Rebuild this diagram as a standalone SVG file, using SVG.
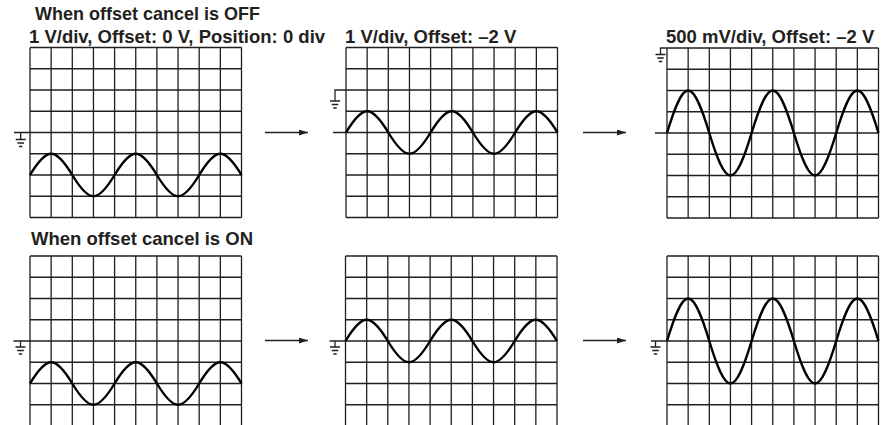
<svg xmlns="http://www.w3.org/2000/svg" xmlns:xlink="http://www.w3.org/1999/xlink" width="885" height="425" viewBox="0 0 885 425">
<style>
.t{font-family:"Liberation Sans",Arial,sans-serif;font-weight:bold;font-size:18.5px;fill:#231f20}
.g{fill:none;stroke:#231f20;stroke-width:1.3}
.w{fill:none;stroke:#000;stroke-width:2.4;stroke-linejoin:round}
.gnd{fill:none;stroke:#231f20;stroke-width:1.3}
.arr{fill:none;stroke:#231f20;stroke-width:1.6}
</style>
<defs>
<path id="grid" class="g" d="M0 0V170M21.15 0V170M42.3 0V170M63.45 0V170M84.6 0V170M105.75 0V170M126.9 0V170M148.05 0V170M169.2 0V170M190.35 0V170M211.5 0V170M0 0H211.5M0 21.25H211.5M0 42.5H211.5M0 63.75H211.5M0 85H211.5M0 106.25H211.5M0 127.5H211.5M0 148.75H211.5M0 170H211.5"/>
<path id="bars" class="gnd" d="M-5 0H5M-3.3 3.5H3.3M-1.7 7H1.7"/>
<path id="w1" d="m0,0 c7.05,-11.69 14.1,-21.25 21.15,-21.25 c7.05,0 14.1,9.56 21.15,21.25 c7.05,11.69 14.1,21.25 21.15,21.25 c7.05,0 14.1,-9.56 21.15,-21.25 c7.05,-11.69 14.1,-21.25 21.15,-21.25 c7.05,0 14.1,9.56 21.15,21.25 c7.05,11.69 14.1,21.25 21.15,21.25 c7.05,0 14.1,-9.56 21.15,-21.25 c7.05,-11.69 14.1,-21.25 21.15,-21.25 c7.05,0 14.1,9.56 21.15,21.25" class="w"/>
<path id="w2" d="m0,0 c7.05,-23.38 14.1,-42.5 21.15,-42.5 c7.05,0 14.1,19.13 21.15,42.5 c7.05,23.38 14.1,42.5 21.15,42.5 c7.05,0 14.1,-19.13 21.15,-42.5 c7.05,-23.38 14.1,-42.5 21.15,-42.5 c7.05,0 14.1,19.13 21.15,42.5 c7.05,23.38 14.1,42.5 21.15,42.5 c7.05,0 14.1,-19.13 21.15,-42.5 c7.05,-23.38 14.1,-42.5 21.15,-42.5 c7.05,0 14.1,19.13 21.15,42.5" class="w"/>
<marker id="ah" markerUnits="userSpaceOnUse" markerWidth="10" markerHeight="8" refX="9" refY="3" orient="auto">
<path d="M0 0L9 3L0 6Z" fill="#231f20"/>
</marker>
</defs>

<text class="t" x="35" y="20" textLength="225" lengthAdjust="spacingAndGlyphs">When offset cancel is OFF</text>
<text class="t" x="29" y="43">1 V/div, Offset: 0 V, Position: 0 div</text>
<text class="t" x="31" y="245">When offset cancel is ON</text>

<g id="off-1">
<use xlink:href="#grid" transform="translate(30,47.5)"/>
<use xlink:href="#w1" transform="translate(30,175)"/>
<path class="gnd" d="M14 132.5H30M20.7 132.5V139.5"/>
<use xlink:href="#bars" transform="translate(20.7,139.5)"/>
</g>

<g id="off-2">
<text class="t" x="345" y="43">1 V/div, Offset: –2 V</text>
<use xlink:href="#grid" transform="translate(346,47.5)"/>
<use xlink:href="#w1" transform="translate(346,132.5)"/>
<path class="gnd" d="M346 90H335V101M333 132.5H346"/>
<use xlink:href="#bars" transform="translate(335,101)"/>
</g>

<g id="off-3">
<text class="t" x="666" y="43">500 mV/div, Offset: –2 V</text>
<use xlink:href="#grid" transform="translate(667,48)"/>
<use xlink:href="#w2" transform="translate(667,133)"/>
<path class="gnd" d="M667 48H660.5V54.5M655 133H667"/>
<use xlink:href="#bars" transform="translate(660.5,54.5)"/>
</g>

<g id="on-1">
<use xlink:href="#grid" transform="translate(30,256)"/>
<use xlink:href="#w1" transform="translate(30,383.5)"/>
<path class="gnd" d="M13.5 341H30M20.5 341V347"/>
<use xlink:href="#bars" transform="translate(20.5,347)"/>
</g>

<g id="on-2">
<use xlink:href="#grid" transform="translate(345.5,256)"/>
<use xlink:href="#w1" transform="translate(345.5,341)"/>
<path class="gnd" d="M329.5 341H345.5M335 341V347"/>
<use xlink:href="#bars" transform="translate(335,347)"/>
</g>

<g id="on-3">
<use xlink:href="#grid" transform="translate(667,256)"/>
<use xlink:href="#w2" transform="translate(667,341)"/>
<path class="gnd" d="M651 341H667M655.5 341V347"/>
<use xlink:href="#bars" transform="translate(655.5,347)"/>
</g>

<g id="connectors">
<line class="arr" x1="265" y1="132.5" x2="308" y2="132.5" marker-end="url(#ah)"/>
<line class="arr" x1="583" y1="132.5" x2="626" y2="132.5" marker-end="url(#ah)"/>
<line class="arr" x1="265" y1="340.5" x2="308" y2="340.5" marker-end="url(#ah)"/>
<line class="arr" x1="583" y1="340.5" x2="626" y2="340.5" marker-end="url(#ah)"/>
</g>
</svg>
